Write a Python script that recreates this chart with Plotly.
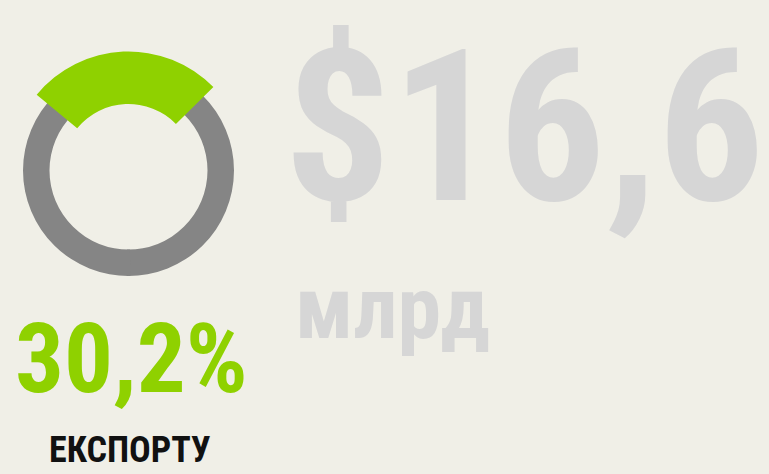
import plotly.graph_objects as go

# ---- data ----
export_share_label = "30,2%"
export_caption = "ЕКСПОРТУ"
total_value_label = "$16,6"
total_unit_label = "млрд"
# angular extent (degrees) of the highlighted arc as drawn, and its center
export_arc_deg = 96.0
export_arc_center = -2.5

W, H = 769, 474
BG = "#f0efe7"
GREEN = "#8fd100"
GRAY = "#858585"
LIGHT = "#d6d6d6"

cx, cy = 128.5, 170.5   # pixel center (from top)
R = 122.0

fig = go.Figure()
# gray ring (two overlapping halves)
fig.add_trace(go.Barpolar(r=[26.5, 26.5], base=[79, 79], theta=[90, 270], width=[182, 182],
                          marker=dict(color=GRAY, line=dict(width=0)), hoverinfo="skip"))
# green arc
fig.add_trace(go.Barpolar(r=[52.5], base=[66.5], theta=[export_arc_center], width=[export_arc_deg],
                          marker=dict(color=GREEN, line=dict(width=0)), hoverinfo="skip"))

fig.update_layout(
    width=W, height=H, margin=dict(l=0, r=0, t=0, b=0),
    paper_bgcolor=BG, plot_bgcolor=BG, showlegend=False,
    polar=dict(
        domain=dict(x=[(cx - R) / W, (cx + R) / W], y=[(H - cy - R) / H, (H - cy + R) / H]),
        bgcolor="rgba(0,0,0,0)", hole=0,
        radialaxis=dict(visible=False, range=[0, R]),
        angularaxis=dict(visible=False, rotation=90, direction="clockwise"),
    ),
)

FONT = "Roboto Condensed, Open Sans Condensed, sans-serif"

def ann(text, x, y, size, color, xanchor="center", yanchor="top"):
    fig.add_annotation(text=text, x=x / W, y=1 - y / H, xref="paper", yref="paper",
                       xanchor=xanchor, yanchor=yanchor, showarrow=False,
                       font=dict(family=FONT, size=size, color=color, weight="bold"))

ann(total_value_label, 282, 1, 212, LIGHT, xanchor="left")
ann(total_unit_label, 293, 254, 88, LIGHT, xanchor="left")
ann(export_share_label, 131, 300, 97, GREEN)
ann(export_caption, 129.5, 427, 36, "#111111")

fig.write_html("out.html", config={"displayModeBar": False},
               post_script="document.body.style.margin='0';")
